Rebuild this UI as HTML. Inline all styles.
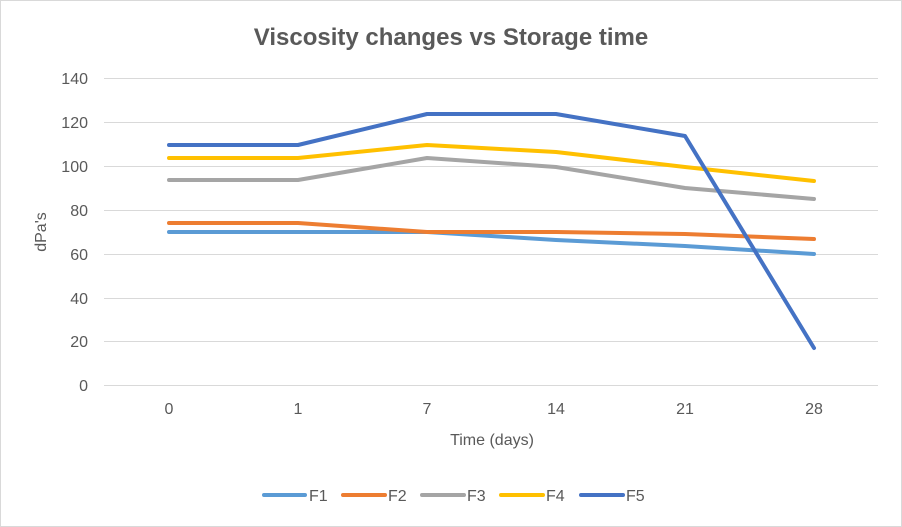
<!DOCTYPE html>
<html><head><style>body{margin:0;background:#fff}svg{display:block}</style></head><body>
<svg width="902" height="527" xmlns="http://www.w3.org/2000/svg" font-family="Liberation Sans, sans-serif">
<rect x="0.5" y="0.5" width="901" height="526" fill="#fff" stroke="#d9d9d9"/>
<text x="451" y="45" text-anchor="middle" font-size="24" font-weight="bold" fill="#595959">Viscosity changes vs Storage time</text>
<g stroke="#d9d9d9" stroke-width="1">
<line x1="104" x2="878" y1="78.5" y2="78.5"/><line x1="104" x2="878" y1="122.5" y2="122.5"/>
<line x1="104" x2="878" y1="166.5" y2="166.5"/><line x1="104" x2="878" y1="210.5" y2="210.5"/>
<line x1="104" x2="878" y1="254.5" y2="254.5"/><line x1="104" x2="878" y1="298.5" y2="298.5"/>
<line x1="104" x2="878" y1="341.5" y2="341.5"/><line x1="104" x2="878" y1="385.5" y2="385.5"/>
</g>
<g font-size="16" fill="#595959" text-anchor="end">
<text x="88" y="84">140</text><text x="88" y="128">120</text><text x="88" y="172">100</text><text x="88" y="216">80</text>
<text x="88" y="260">60</text><text x="88" y="304">40</text><text x="88" y="347">20</text><text x="88" y="391">0</text>
</g>
<g font-size="16" fill="#595959" text-anchor="middle">
<text x="169" y="414">0</text><text x="298" y="414">1</text><text x="427" y="414">7</text>
<text x="556" y="414">14</text><text x="685" y="414">21</text><text x="814" y="414">28</text>
<text x="492" y="445">Time (days)</text>
</g>
<text transform="translate(46,232) rotate(-90)" text-anchor="middle" font-size="16" fill="#595959">dPa's</text>
<g fill="none" stroke-width="4" stroke-linejoin="round" stroke-linecap="round">
<polyline stroke="#5b9bd5" points="169,232 298,232 427,232 556,240 685,246 814,254"/>
<polyline stroke="#ed7d31" points="169,223 298,223 427,232 556,232 685,234 814,239"/>
<polyline stroke="#a5a5a5" points="169,180 298,180 427,158 556,167 685,188 814,199"/>
<polyline stroke="#ffc000" points="169,158 298,158 427,145 556,152 685,167 814,181"/>
<polyline stroke="#4472c4" points="169,145 298,145 427,114 556,114 685,136 814,348"/>
</g>
<g stroke-width="4" stroke-linecap="round">
<line x1="264" x2="305" y1="495" y2="495" stroke="#5b9bd5"/>
<line x1="343" x2="385" y1="495" y2="495" stroke="#ed7d31"/>
<line x1="422" x2="464" y1="495" y2="495" stroke="#a5a5a5"/>
<line x1="501" x2="543" y1="495" y2="495" stroke="#ffc000"/>
<line x1="581" x2="623" y1="495" y2="495" stroke="#4472c4"/>
</g>
<g font-size="16" fill="#595959">
<text x="309" y="501">F1</text><text x="388" y="501">F2</text><text x="467" y="501">F3</text>
<text x="546" y="501">F4</text><text x="626" y="501">F5</text>
</g>
</svg>
</body></html>
